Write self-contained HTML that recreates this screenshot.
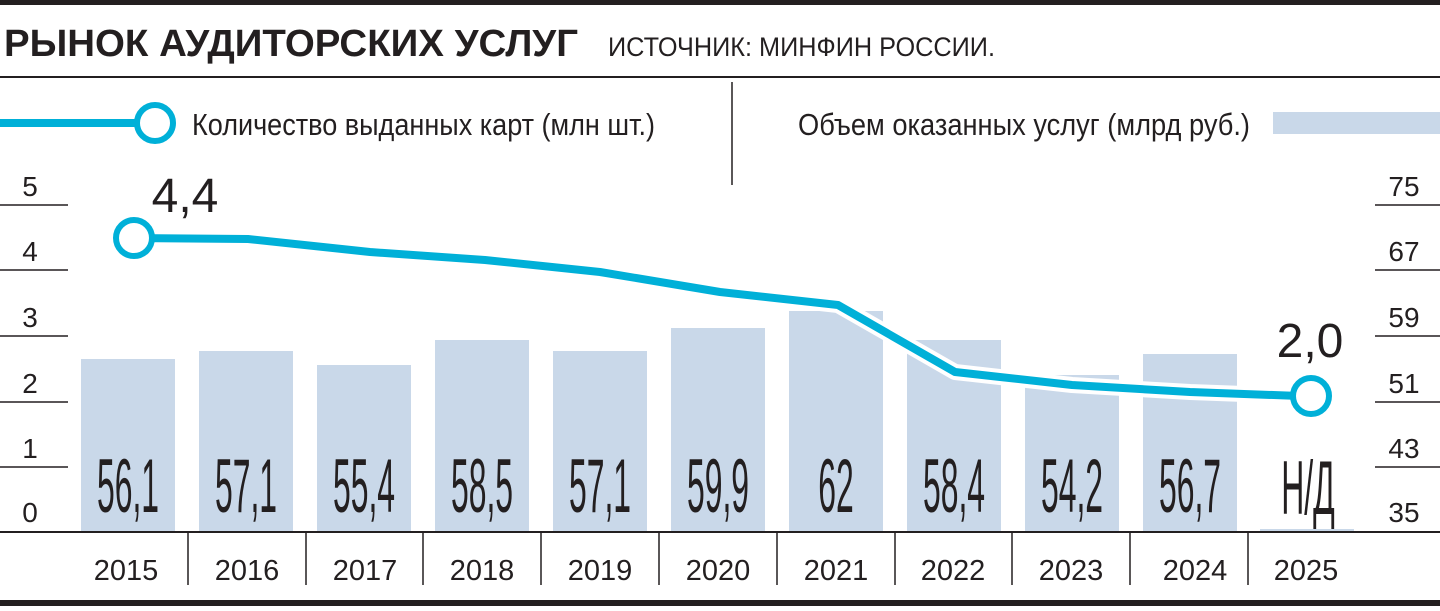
<!DOCTYPE html>
<html><head><meta charset="utf-8"><style>
body{margin:0;background:#fff}
svg text{font-family:"Liberation Sans",sans-serif;fill:#231f20}
</style></head><body>
<svg width="1440" height="606" viewBox="0 0 1440 606" xmlns="http://www.w3.org/2000/svg">
<rect x="0" y="0" width="1440" height="5" fill="#231f20"/>
<rect x="0" y="600" width="1440" height="6" fill="#231f20"/>
<text x="4" y="56" font-size="38" font-weight="bold" textLength="574" lengthAdjust="spacingAndGlyphs">РЫНОК АУДИТОРСКИХ УСЛУГ</text>
<text x="608" y="56" font-size="27" textLength="387" lengthAdjust="spacingAndGlyphs">ИСТОЧНИК: МИНФИН РОССИИ.</text>
<line x1="0" y1="77" x2="1440" y2="77" stroke="#231f20" stroke-width="2"/>
<line x1="732" y1="82" x2="732" y2="185" stroke="#231f20" stroke-width="1.5"/>
<line x1="0" y1="123" x2="150" y2="123" stroke="#00b0d8" stroke-width="8"/>
<circle cx="155" cy="123" r="18" fill="#fff" stroke="#00b0d8" stroke-width="6"/>
<text x="192" y="135" font-size="31" textLength="463" lengthAdjust="spacingAndGlyphs">Количество выданных карт (млн шт.)</text>
<text x="798" y="135" font-size="31" textLength="452" lengthAdjust="spacingAndGlyphs">Объем оказанных услуг (млрд руб.)</text>
<rect x="1273" y="112" width="167" height="22" fill="#c9d8e9"/>
<g stroke="#231f20" stroke-width="1.5">
<line x1="0" y1="205" x2="68" y2="205"/><line x1="0" y1="270" x2="68" y2="270"/><line x1="0" y1="336" x2="68" y2="336"/><line x1="0" y1="402" x2="68" y2="402"/><line x1="0" y1="467" x2="68" y2="467"/>
<line x1="1375" y1="205" x2="1440" y2="205"/><line x1="1375" y1="270" x2="1440" y2="270"/><line x1="1375" y1="336" x2="1440" y2="336"/><line x1="1375" y1="402" x2="1440" y2="402"/><line x1="1375" y1="467" x2="1440" y2="467"/>
</g>
<g font-size="28" text-anchor="middle">
<text x="30" y="196">5</text><text x="30" y="261">4</text><text x="30" y="327">3</text><text x="30" y="393">2</text><text x="30" y="458">1</text><text x="30" y="522">0</text>
<text x="1404" y="196">75</text><text x="1404" y="261">67</text><text x="1404" y="327">59</text><text x="1404" y="393">51</text><text x="1404" y="458">43</text><text x="1404" y="522">35</text>
</g>
<g fill="#c9d8e9">
<rect x="81" y="359" width="94" height="173"/>
<rect x="199" y="351" width="94" height="181"/>
<rect x="317" y="365" width="94" height="167"/>
<rect x="435" y="340" width="94" height="192"/>
<rect x="553" y="351" width="94" height="181"/>
<rect x="671" y="328" width="94" height="204"/>
<rect x="789" y="311" width="94" height="221"/>
<rect x="907" y="340" width="94" height="192"/>
<rect x="1025" y="375" width="94" height="157"/>
<rect x="1143" y="354" width="94" height="178"/>
<rect x="1260" y="529" width="94" height="3"/>
</g>
<g font-size="76" text-anchor="middle">
<g transform="translate(128,512) scale(0.42,1)"><text>56,1</text></g>
<g transform="translate(246,512) scale(0.42,1)"><text>57,1</text></g>
<g transform="translate(364,512) scale(0.42,1)"><text>55,4</text></g>
<g transform="translate(482,512) scale(0.42,1)"><text>58,5</text></g>
<g transform="translate(600,512) scale(0.42,1)"><text>57,1</text></g>
<g transform="translate(718,512) scale(0.42,1)"><text>59,9</text></g>
<g transform="translate(836,512) scale(0.42,1)"><text>62</text></g>
<g transform="translate(954,512) scale(0.42,1)"><text>58,4</text></g>
<g transform="translate(1072,512) scale(0.42,1)"><text>54,2</text></g>
<g transform="translate(1190,512) scale(0.42,1)"><text>56,7</text></g>
<g transform="translate(1308,514) scale(0.42,1)"><text>Н/Д</text></g>
</g>
<polyline points="128,238 248,239 370,252 485,260 600,272 720,292 838,305 955,372 1072,385 1190,392 1300,396" fill="none" stroke="#fff" stroke-width="16" stroke-linejoin="round"/>
<polyline points="128,238 248,239 370,252 485,260 600,272 720,292 838,305 955,372 1072,385 1190,392 1300,396" fill="none" stroke="#00b0d8" stroke-width="8" stroke-linejoin="round"/>
<circle cx="134" cy="238" r="18" fill="#fff" stroke="#00b0d8" stroke-width="6"/>
<circle cx="1311" cy="396" r="18" fill="#fff" stroke="#00b0d8" stroke-width="6"/>
<text x="185" y="212" font-size="48" text-anchor="middle">4,4</text>
<text x="1310" y="357" font-size="48" text-anchor="middle">2,0</text>
<line x1="0" y1="532" x2="1440" y2="532" stroke="#231f20" stroke-width="2"/>
<g stroke="#231f20" stroke-width="1.5">
<line x1="188" y1="532" x2="188" y2="585"/><line x1="306" y1="532" x2="306" y2="585"/><line x1="423" y1="532" x2="423" y2="585"/><line x1="541" y1="532" x2="541" y2="585"/><line x1="659" y1="532" x2="659" y2="585"/><line x1="777" y1="532" x2="777" y2="585"/><line x1="895" y1="532" x2="895" y2="585"/><line x1="1012" y1="532" x2="1012" y2="585"/><line x1="1130" y1="532" x2="1130" y2="585"/><line x1="1248" y1="532" x2="1248" y2="585"/>
</g>
<g font-size="29" text-anchor="middle">
<text x="126" y="580">2015</text><text x="247" y="580">2016</text><text x="365" y="580">2017</text><text x="482" y="580">2018</text><text x="600" y="580">2019</text><text x="718" y="580">2020</text><text x="836" y="580">2021</text><text x="953" y="580">2022</text><text x="1071" y="580">2023</text><text x="1195" y="580">2024</text><text x="1306" y="580">2025</text>
</g>
</svg>
</body></html>
